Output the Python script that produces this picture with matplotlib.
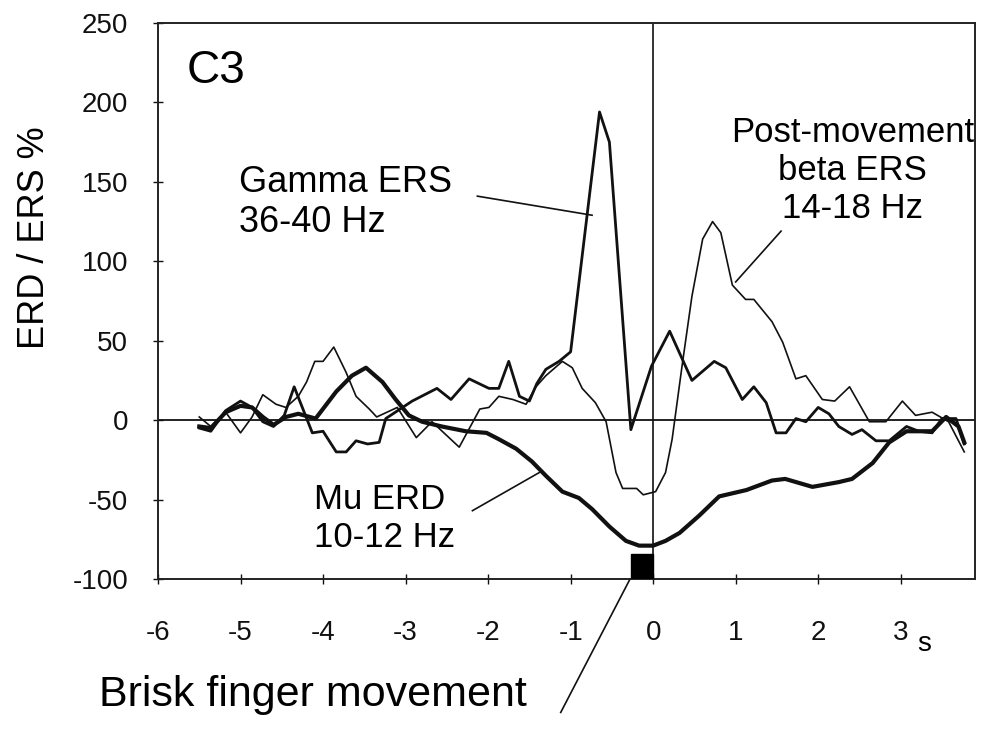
import matplotlib
matplotlib.use('Agg')
import matplotlib.pyplot as plt
from matplotlib.patches import Rectangle

plt.rcParams['font.family'] = ['Liberation Sans', 'DejaVu Sans']
plt.rcParams['axes.unicode_minus'] = False

# Mu ERD 10-12 Hz (thick line)
mu_t = [-5.5, -5.36, -5.18, -5.0, -4.86, -4.73, -4.6, -4.45, -4.3, -4.09, -3.84, -3.65,
        -3.48, -3.28, -3.12, -2.96, -2.8, -2.56, -2.27, -2.02, -1.87, -1.66, -1.47, -1.3,
        -1.1, -0.9, -0.74, -0.53, -0.33, -0.17, 0.0, 0.15, 0.32, 0.56, 0.8, 1.13, 1.44,
        1.6, 1.93, 2.25, 2.41, 2.66, 2.86, 3.07, 3.38, 3.55, 3.7, 3.77]
mu_v = [-4, -5, 5, 9, 8, 2, -3, 2, 4, 1, 18, 28,
        33, 24, 13, 3, -1, -4, -7, -8, -12, -18, -26, -35,
        -45, -49, -56, -67, -76, -79, -79, -76, -71, -60, -48, -44, -38,
        -37, -42, -39, -37, -27, -14, -7, -7, 2, -4, -14]

# Gamma ERS 36-40 Hz (medium line)
gamma_t = [-5.5, -5.36, -5.18, -5.0, -4.86, -4.73, -4.6, -4.47, -4.35, -4.13, -4.0, -3.84,
           -3.72, -3.6, -3.46, -3.32, -3.24, -2.92, -2.62, -2.45, -2.23, -1.99, -1.87, -1.75,
           -1.62, -1.5, -1.41, -1.3, -1.14, -1.0, -0.65, -0.53, -0.27, -0.02, 0.2, 0.47,
           0.74, 0.88, 1.08, 1.22, 1.37, 1.49, 1.61, 1.73, 1.85, 2.0, 2.13, 2.25, 2.41,
           2.53, 2.7, 2.86, 3.07, 3.22, 3.38, 3.5, 3.67, 3.77]
gamma_v = [-5, -7, 6, 12, 8, -1, -4, 3, 21, -8, -7, -20,
           -20, -13, -15, -14, 1, 12, 20, 13, 26, 20, 20, 37,
           15, 12, 23, 32, 37, 43, 194, 175, -6, 34, 56, 25,
           37, 33, 13, 21, 11, -8, -8, 1, -1, 8, 4, -4, -9,
           -6, -13, -13, -4, -7, -8, 1, 1, -15]

# Post-movement beta ERS 14-18 Hz (thin line)
beta_t = [-5.5, -5.36, -5.18, -5.0, -4.86, -4.73, -4.57, -4.45, -4.3, -4.2, -4.1, -4.0,
          -3.87, -3.72, -3.6, -3.44, -3.35, -3.1, -2.87, -2.68, -2.35, -2.1, -1.99, -1.87,
          -1.7, -1.54, -1.42, -1.3, -1.1, -0.98, -0.86, -0.7, -0.57, -0.45, -0.37, -0.2,
          -0.12, 0.03, 0.15, 0.23, 0.35, 0.47, 0.6, 0.72, 0.82, 0.96, 1.12, 1.22, 1.44,
          1.57, 1.73, 1.85, 2.05, 2.2, 2.38, 2.62, 2.82, 3.02, 3.18, 3.38, 3.58, 3.77]
beta_v = [2, -4, 5, -8, 2, 16, 10, 8, 15, 24, 37, 37,
          46, 30, 15, 7, 2, 8, -11, -1, -17, 7, 8, 15,
          13, 10, 21, 28, 37, 33, 20, 11, -1, -33, -43, -43,
          -47, -45, -33, -12, 34, 78, 114, 125, 118, 85, 76, 76, 62,
          49, 26, 28, 13, 12, 21, -1, -1, 12, 3, 5, -1, -20]

x_ticks = list(range(-6, 4))
y_ticks = list(range(-100, 251, 50))
movement = [-0.27, 0.0]

ink = '#111111'

fig = plt.figure(figsize=(9.84, 7.31), dpi=100)
ax = fig.add_axes([158 / 984, 1 - 579 / 731, (975 - 158) / 984, (579 - 23) / 731])

ax.plot(beta_t, beta_v, color=ink, lw=1.2)
ax.plot(gamma_t, gamma_v, color=ink, lw=2.0)
ax.plot(mu_t, mu_v, color=ink, lw=3.0, solid_joinstyle='round')

ax.axhline(0, color=ink, lw=1.3)
ax.axvline(0, color=ink, lw=1.2)

ax.add_patch(Rectangle((movement[0], -100), movement[1] - movement[0], 16,
                       color='black', zorder=5))

ax.set_xlim(-6, 3.9)
ax.set_ylim(-100, 250)
ax.set_xticks(x_ticks)
ax.set_yticks(y_ticks)
ax.tick_params(axis='both', direction='inout', length=7, width=1, colors=ink,
               labelsize=20)
ax.tick_params(axis='x', pad=26)
ax.tick_params(axis='y', pad=18)
for s in ax.spines.values():
    s.set_linewidth(1.4)
    s.set_color('#222222')
ax.set_ylabel('ERD / ERS %', fontsize=26)
ax.yaxis.set_label_coords(-106 / 817, 0.613)

ax.text(3.28, -133, 's', fontsize=20, ha='center', va='top', clip_on=False)

# labels and pointer lines
ax.text(-5.65, 220, 'C3', fontsize=33, va='center', ha='left')
ax.text(-5.02, 137, 'Gamma ERS\n36-40 Hz', fontsize=26, va='center', ha='left')
ax.plot([-2.13, -0.74], [141, 129], color=ink, lw=1.2)
ax.text(2.42, 157, 'Post-movement\nbeta ERS\n14-18 Hz', fontsize=25,
        va='center', ha='center')
ax.plot([1.0, 1.55], [87, 119], color=ink, lw=1.2)
ax.text(-4.11, -62, 'Mu ERD\n10-12 Hz', fontsize=25, va='center', ha='left')
ax.plot([-2.19, -1.38], [-57, -33], color=ink, lw=1.2)
ax.plot([-0.28, -1.12], [-100, -184], color=ink, lw=1.2, clip_on=False)
ax.text(-6.72, -173, 'Brisk finger movement', fontsize=31, va='center', ha='left')

fig.savefig('out.png', dpi=100)
